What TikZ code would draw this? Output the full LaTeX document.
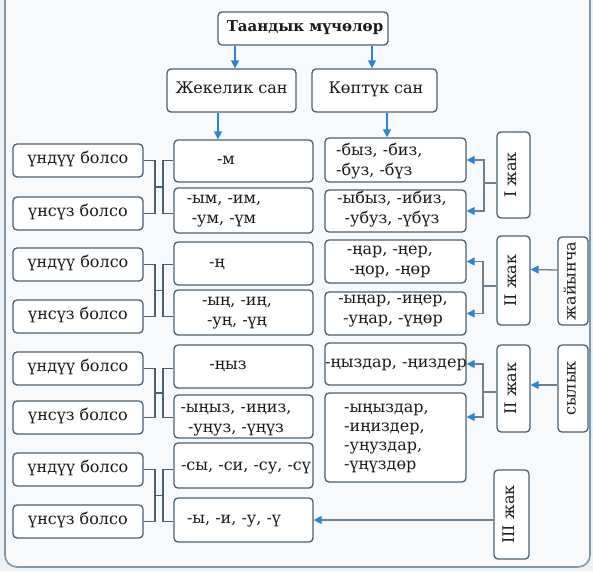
\documentclass[tikz,border=0pt]{standalone}
\usepackage{fontspec}
\setmainfont{DejaVu Serif}
\usetikzlibrary{arrows.meta}
\definecolor{boxc}{HTML}{4A6073}
\definecolor{framec}{HTML}{7F98AB}
\definecolor{arrc}{HTML}{2C84D6}
\definecolor{jnc}{HTML}{6E808E}
\definecolor{txtc}{HTML}{1A1A1A}
\definecolor{bgc}{HTML}{EEF1F3}
\definecolor{innerc}{HTML}{F7F9FA}
\newcommand\mybox[5]{\node[box, minimum width={(#4-#2)*1pt}, minimum height={(#5-#3)*1pt}] (#1) at ({(#2+#4)/2},{(#3+#5)/2}) {};}
\begin{document}
\begin{tikzpicture}[x=1pt,y=-1pt,
  box/.style={draw=boxc, fill=white, rounded corners=4pt, line width=1.3pt, inner sep=0pt},
  lbl/.style={font=\fontsize{16}{19.5}\selectfont, text=txtc, inner sep=0pt},
  lbm/.style={lbl, align=center},
  lbo/.style={lbl, anchor=mid},
  rlbl/.style={lbl, anchor=mid, rotate=90},
  brk/.style={draw=boxc, line width=1.3pt},
  jn/.style={draw=jnc, line width=1.3pt},
  barrow/.style={draw=arrc, line width=1.4pt, -{Triangle[length=8pt,width=8pt]}},
  garrow/.style={draw=jnc, line width=1.3pt, -{Triangle[length=8pt,width=8pt,color=arrc]}},
]
\useasboundingbox (0,0) rectangle (593,571);
\fill[bgc] (0,0) rectangle (593,571);
\draw[framec, line width=1.6pt, fill=innerc, rounded corners=12pt] (5,-40) rectangle (590,567);

% top level
\mybox{top}{218}{12}{388}{45}
\mybox{zhek}{167}{69}{296}{112}
\mybox{kopt}{312}{69}{437}{112}
\node[lbo, font=\fontsize{15}{18}\selectfont\bfseries] (ttop) at (305,28.5) {Таандык мүчөлөр};
\node[lbo] (tzhek) at (zhek) {Жекелик сан};
\node[lbo] (tkopt) at (376,90.5) {Көптүк сан};

% left column
\mybox{u1}{13}{144}{143}{177}
\mybox{s1}{13}{197}{143}{230}
\mybox{u2}{13}{248}{143}{281}
\mybox{s2}{13}{300}{143}{333}
\mybox{u3}{13}{352}{143}{385}
\mybox{s3}{13}{401}{143}{434}
\mybox{u4}{13}{453}{143}{486}
\mybox{s4}{13}{505}{143}{538}
\node[lbo] (tu1) at (u1) {үндүү болсо};
\node[lbo] (ts1) at (s1) {үнсүз болсо};
\node[lbo] (tu2) at (u2) {үндүү болсо};
\node[lbo] (ts2) at (s2) {үнсүз болсо};
\node[lbo] (tu3) at (u3) {үндүү болсо};
\node[lbo] (ts3) at (s3) {үнсүз болсо};
\node[lbo] (tu4) at (u4) {үндүү болсо};
\node[lbo] (ts4) at (s4) {үнсүз болсо};

% middle column
\mybox{m1a}{174}{140}{313}{182}
\mybox{m1b}{174}{188}{313}{233}
\mybox{m2a}{174}{242}{313}{285}
\mybox{m2b}{174}{290}{313}{335}
\mybox{m3a}{174}{345}{313}{388}
\mybox{m3b}{174}{395}{313}{438}
\mybox{m4a}{174}{443}{313}{488}
\mybox{m4b}{174}{498}{313}{542}
\node[lbo] (tm1a) at (226,162) {-м};
\node[lbm] (tm1b) at (224,211) {-ым, -им,\\-ум, -үм};
\node[lbo] (tm2a) at (217,265) {-ң};
\node[lbm] (tm2b) at (237,313) {-ың, -иң,\\-уң, -үң};
\node[lbo] (tm3a) at (228,367) {-ңыз};
\node[lbm] (tm3b) at (236,420) {-ыңыз, -иңиз,\\-уңуз, -үңүз};
\node[lbo] (tm4a) at (246,468) {-сы, -си, -су, -сү};
\node[lbo] (tm4b) at (234,521) {-ы, -и, -у, -ү};

% right column
\mybox{r1a}{325}{138}{466}{182}
\mybox{r1b}{325}{190}{466}{232}
\mybox{r2a}{325}{240}{466}{283}
\mybox{r2b}{325}{292}{466}{335}
\mybox{r3a}{325}{343}{466}{385}
\mybox{r3b}{325}{393}{466}{482}
\node[lbl, align=left, anchor=west] (tr1a) at (336,161) {-быз, -биз,\\-буз, -бүз};
\node[lbm] (tr1b) at (392,209) {-ыбыз, -ибиз,\\-убуз, -үбүз};
\node[lbm] (tr2a) at (390,262) {-ңар, -ңер,\\-ңор, -ңөр};
\node[lbm] (tr2b) at (393,311) {-ыңар, -иңер,\\-уңар, -үңөр};
\node[lbo] (tr3a) at (396,365) {-ңыздар, -ңиздер};
\node[lbl, align=left, anchor=west, font=\fontsize{16}{19}\selectfont] (tr3b) at (344,438) {-ыңыздар,\\-иңиздер,\\-уңуздар,\\-үңүздөр};

% person boxes
\mybox{j1}{497}{132}{530}{218}
\mybox{j2}{497}{236}{530}{325}
\mybox{j3}{497}{345}{530}{432}
\mybox{j4}{494}{470}{529}{559}
\mybox{zhay}{558}{237}{588}{325}
\mybox{syl}{558}{345}{588}{432}
\node[rlbl] (tj1) at (j1) {I жак};
\node[rlbl] (tj2) at (j2) {II жак};
\node[rlbl] (tj3) at (j3) {II жак};
\node[rlbl] (tj4) at (j4) {III жак};
\node[rlbl] (tzhay) at (zhay) {жайынча};
\node[rlbl] (tsyl) at (syl) {сылык};

% top arrows
\draw[barrow] ([xshift=-68pt]top.south) -- ([xshift=-68pt]top.south |- zhek.north);
\draw[barrow] ([xshift=69pt]top.south) -- ([xshift=69pt]top.south |- kopt.north);
\draw[barrow] ([xshift=-13.5pt]zhek.south) -- ([xshift=-13.5pt]zhek.south |- m1a.north);
\draw[barrow] ([xshift=12.5pt]kopt.south) -- ([xshift=12.5pt]kopt.south |- r1a.north);

% left brackets
\coordinate (k1) at (155,187);   \coordinate (k1r) at (163,187);
\coordinate (k2) at (155,290.5); \coordinate (k2r) at (163,290.5);
\coordinate (k3) at (155,393);   \coordinate (k3r) at (163,393);
\coordinate (k4) at (155,495.5); \coordinate (k4r) at (163,495.5);
\draw[brk] (u1.east) -| (k1) |- (s1.east);
\draw[brk] (k1) -- (k1r);
\draw[brk] (m1a.west |- u1.east) -| (k1r) |- (m1b.west |- s1.east);
\draw[brk] (u2.east) -| (k2) |- (s2.east);
\draw[brk] (k2) -- (k2r);
\draw[brk] (m2a.west |- u2.east) -| (k2r) |- (m2b.west |- s2.east);
\draw[brk] (u3.east) -| (k3) |- (s3.east);
\draw[brk] (k3) -- (k3r);
\draw[brk] (m3a.west |- u3.east) -| (k3r) |- (m3b.west |- s3.east);
\draw[brk] (u4.east) -| (k4) |- (s4.east);
\draw[brk] (k4) -- (k4r);
\draw[brk] (m4a.west |- u4.east) -| (k4r) |- (m4b.west |- s4.east);

% right junctions
\coordinate (q1) at (484,183);
\coordinate (q2) at (483,286);
\coordinate (q3) at (483,392);
\draw[jn] (j1.west |- q1) -- (q1);
\draw[garrow] (q1) |- (r1a.east);
\draw[garrow] (q1) |- (r1b.east);
\draw[jn] (j2.west |- q2) -- (q2);
\draw[garrow] (q2) |- (r2a.east);
\draw[garrow] (q2) |- (r2b.east);
\draw[jn] (j3.west |- q3) -- (q3);
\draw[garrow] (q3) |- (r3a.east);
\draw[garrow] (q3) |- ([yshift=20.5pt]r3b.east);
\draw[garrow] ([yshift=11pt]zhay.west) -- ([yshift=11pt]j2.east);
\draw[garrow] ([yshift=3.5pt]syl.west) -- ([yshift=3.5pt]j3.east);
\draw[garrow] (j4.west |- m4b.east) -- (m4b.east);
\end{tikzpicture}
\end{document}
